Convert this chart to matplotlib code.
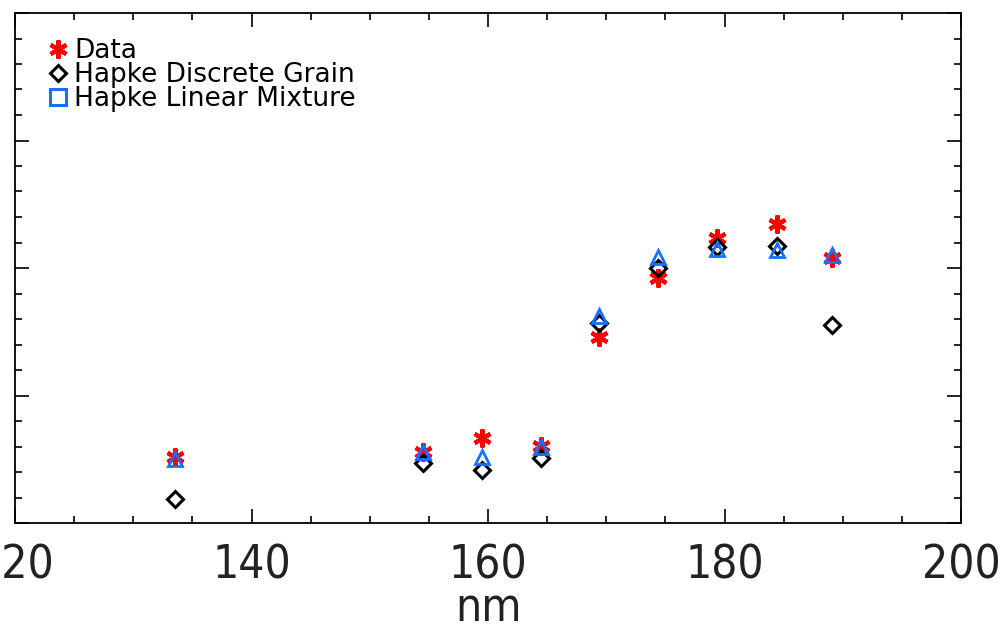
import matplotlib
matplotlib.use("Agg")
import matplotlib.pyplot as plt
from matplotlib.lines import Line2D
from matplotlib.ticker import MultipleLocator

# wavelengths (nm) and reflectance values
wave = [133.5, 154.5, 159.5, 164.45, 169.4, 174.4, 179.4, 184.4, 189.1]
data = [0.01035, 0.01114, 0.01333, 0.01208, 0.02918, 0.03843, 0.04471, 0.04690, 0.04157]
discrete = [0.00377, 0.00941, 0.00831, 0.01020, 0.03137, 0.04000, 0.04329, 0.04345, 0.03106]
linear = [0.01004, 0.01114, 0.01035, 0.01192, 0.03247, 0.04172, 0.04298, 0.04282, 0.04204]

labels = ["Data", "Hapke Discrete Grain", "Hapke Linear Mixture"]
xticks = [120, 140, 160, 180, 200]

W, H = 1005, 629
fig = plt.figure(figsize=(W / 100, H / 100), dpi=100)
ax = fig.add_axes([15 / W, (H - 523) / H, (961 - 15) / W, (523 - 13) / H])

ax.plot(wave, data, ls="none", marker=(6, 2, 0), ms=13, mew=3.0, color="#ff0000")
ax.plot(wave, discrete, ls="none", marker="D", ms=8.5, mew=2.2, mfc="none", mec="black")
ax.plot(wave, linear, ls="none", marker="^", ms=10.5, mew=2.0, mfc="none", mec="#1470ff")

ax.set_xticks(xticks)
ax.set_xticklabels([str(t) for t in xticks], fontsize=33, fontstretch="condensed",
                   fontweight="light", color="#222222")
ax.set_xlim(120, 200)
ax.set_ylim(0, 0.08)
ax.xaxis.set_minor_locator(MultipleLocator(5))
ax.yaxis.set_major_locator(MultipleLocator(0.02))
ax.yaxis.set_minor_locator(MultipleLocator(0.004))
ax.tick_params(which="both", direction="in", top=True, right=True, width=1.2,
               labelleft=False, pad=15)
ax.tick_params(which="major", length=10)
ax.tick_params(which="minor", length=5)
for s in ax.spines.values():
    s.set_linewidth(1.3)

ax.set_xlabel("nm", fontsize=33, fontstretch="condensed", fontweight="light",
              color="#222222", labelpad=-2)

handles = [
    Line2D([], [], ls="none", marker=(6, 2, 0), ms=13, mew=3.0, color="#ff0000"),
    Line2D([], [], ls="none", marker="D", ms=8.5, mew=2.2, mfc="none", mec="black"),
    Line2D([], [], ls="none", marker="s", ms=11, mew=2.2, mfc="none", mec="#1470ff"),
]
ax.legend(handles, labels, loc="upper left", bbox_to_anchor=(37 / W, 1 - 25 / H),
          bbox_transform=fig.transFigure, frameon=False, fontsize=19,
          handlelength=0.6, handletextpad=0.3, labelspacing=-0.07, borderpad=0)

fig.savefig("out.png", dpi=100)
